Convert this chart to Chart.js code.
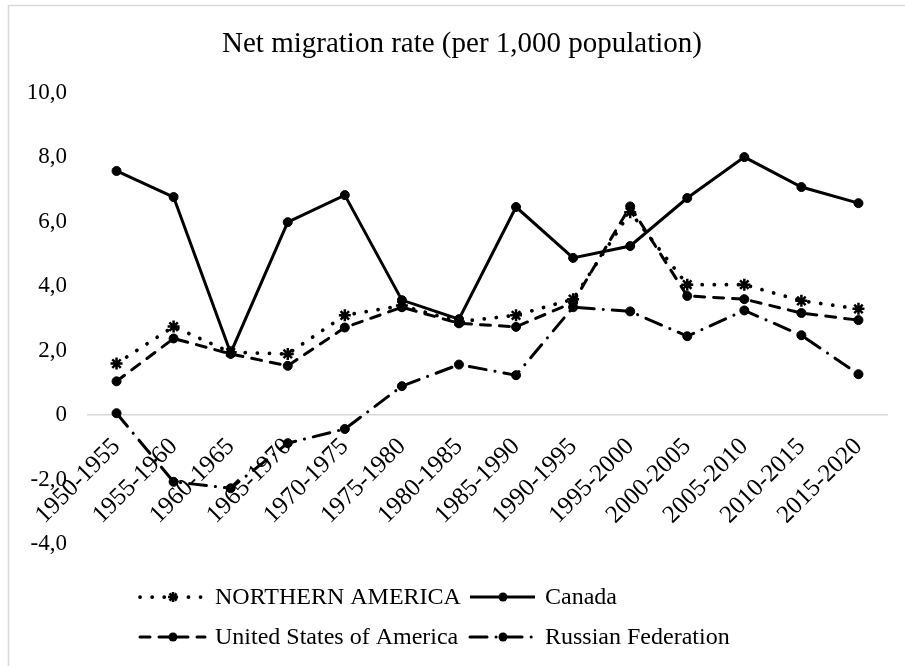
<!DOCTYPE html>
<html>
<head>
<meta charset="utf-8">
<script src="https://cdn.jsdelivr.net/npm/chart.js@4/dist/chart.umd.min.js"></script>
<style>
  html, body { margin: 0; padding: 0; background: #fff; }
  #wrap { width: 905px; height: 666px; }
</style>
</head>
<body>
<div id="wrap"><canvas id="chart" width="905" height="666"></canvas></div>
<script>
// Datos
const periods = ['1950-1955', '1955-1960', '1960-1965', '1965-1970', '1970-1975', '1975-1980', '1980-1985',
  '1985-1990', '1990-1995', '1995-2000', '2000-2005', '2005-2010', '2010-2015', '2015-2020'];
const northernAmerica = [1.6, 2.75, 1.95, 1.9, 3.1, 3.4, 2.9, 3.1, 3.6, 6.3, 4.05, 4.05, 3.55, 3.3];
const canada = [7.58, 6.77, 1.93, 5.99, 6.83, 3.57, 2.98, 6.46, 4.88, 5.25, 6.74, 8.01, 7.08, 6.58];
const unitedStates = [1.05, 2.38, 1.9, 1.53, 2.72, 3.35, 2.85, 2.74, 3.5, 6.48, 3.7, 3.6, 3.17, 2.95];
const russia = [0.06, -2.07, -2.27, -0.87, -0.43, 0.9, 1.57, 1.24, 3.35, 3.22, 2.45, 3.25, 2.48, 1.27];
const seriesNames = ['NORTHERN AMERICA', 'Canada', 'United States of America', 'Russian Federation'];
const chartTitle = 'Net migration rate (per 1,000 population)';

const serif = '"Liberation Serif", "Times New Roman", serif';

// Borde gris y titulo
const frame = {
    id: 'frame',
    beforeDraw: (chart) => {
        const ctx = chart.ctx;
        ctx.save();
        ctx.strokeStyle = '#d9d9d9';
        ctx.lineWidth = 1.5;
        ctx.strokeRect(8.5, 5.5, 960, 720);
        ctx.fillStyle = '#000';
        ctx.font = '29px ' + serif;
        ctx.textAlign = 'center';
        ctx.textBaseline = 'middle';
        ctx.fillText(chartTitle, 462, 44);
        ctx.restore();
    }
};

// Leyenda en dos columnas, dibujada a mano
const legendBox = {
    id: 'legendBox',
    afterDraw: (chart) => {
        const ctx = chart.ctx;
        const cols = [140, 470];
        const rows = [597, 637];
        chart.data.datasets.forEach((ds, i) => {
            const x = cols[i % 2];
            const y = rows[Math.floor(i / 2)];
            ctx.save();
            ctx.strokeStyle = '#000';
            ctx.lineWidth = ds.borderWidth;
            ctx.lineCap = ds.borderCapStyle || 'butt';
            ctx.setLineDash(ds.borderDash || []);
            ctx.beginPath();
            ctx.moveTo(x, y);
            ctx.lineTo(x + 65, y);
            ctx.stroke();
            ctx.setLineDash([]);
            const cx = x + 33;
            if (ds.pointStyle === 'star') {
                ctx.lineWidth = 2.5;
                ctx.lineCap = 'butt';
                ctx.beginPath();
                for (let k = 0; k < 4; k++) {
                    const a = k * Math.PI / 4;
                    ctx.moveTo(cx - Math.cos(a) * 5, y - Math.sin(a) * 5);
                    ctx.lineTo(cx + Math.cos(a) * 5, y + Math.sin(a) * 5);
                }
                ctx.stroke();
            } else {
                ctx.fillStyle = '#000';
                ctx.beginPath();
                ctx.arc(cx, y, 4.5, 0, Math.PI * 2);
                ctx.fill();
            }
            ctx.fillStyle = '#000';
            ctx.font = '24px ' + serif;
            ctx.textBaseline = 'middle';
            ctx.fillText(ds.label, x + 75, y + 1);
            ctx.restore();
        });
    }
};

const baseSeries = (label, data) => ({
    label: label,
    data: data,
    borderColor: '#000',
    backgroundColor: '#000',
    pointBackgroundColor: '#000',
    pointBorderColor: '#000',
    borderWidth: 3,
    pointRadius: 4.5,
    pointBorderWidth: 1,
    tension: 0
});

new Chart(document.getElementById('chart'), {
    type: 'line',
    data: {
        labels: periods,
        datasets: [
            Object.assign(baseSeries(seriesNames[0], northernAmerica), {
                borderDash: [0.1, 12], borderCapStyle: 'round', borderWidth: 3.75,
                pointStyle: 'star', pointRadius: 6, pointBorderWidth: 2.5
            }),
            baseSeries(seriesNames[1], canada),
            Object.assign(baseSeries(seriesNames[2], unitedStates), {
                borderDash: [10, 9], borderCapStyle: 'round'
            }),
            Object.assign(baseSeries(seriesNames[3], russia), {
                borderDash: [17, 9, 0.1, 9], borderCapStyle: 'round'
            })
        ]
    },
    options: {
        responsive: false,
        animation: false,
        layout: { padding: { left: 0, right: 18, top: 93, bottom: 122 } },
        plugins: {
            legend: { display: false },
            tooltip: { enabled: false },
            title: { display: false }
        },
        scales: {
            x: {
                position: { y: 0 },
                offset: true,
                grid: { display: false, drawTicks: false, offset: true },
                border: { display: true, color: '#d9d9d9', width: 1.5 },
                ticks: {
                    color: '#000',
                    font: { family: serif, size: 25 },
                    maxRotation: 45,
                    minRotation: 45,
                    autoSkip: false,
                    padding: 17
                },
                afterFit: (scale) => { scale.height = 0; }
            },
            y: {
                min: -4,
                max: 10,
                grid: { display: false, drawTicks: false },
                border: { display: false },
                ticks: {
                    stepSize: 2,
                    color: '#000',
                    padding: 21,
                    font: { family: serif, size: 23 },
                    callback: (v) => v === 0 ? '0' : v.toFixed(1).replace('.', ',')
                },
                afterFit: (scale) => { scale.width = 88; }
            }
        }
    },
    plugins: [frame, legendBox]
});
</script>
</body>
</html>
